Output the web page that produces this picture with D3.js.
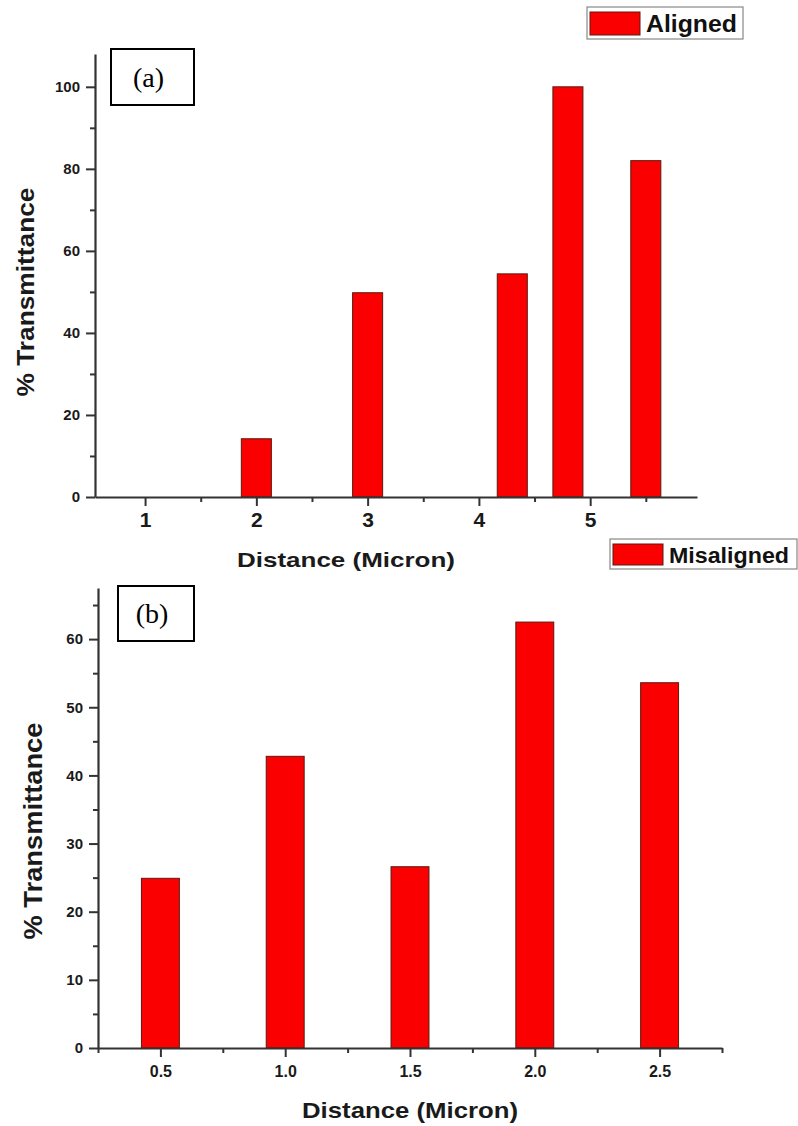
<!DOCTYPE html>
<html>
<head>
<meta charset="utf-8">
<script src="https://cdn.jsdelivr.net/npm/d3@7"></script>
<style>
  html, body { margin: 0; padding: 0; background: #fff; }
  svg { display: block; }
</style>
</head>
<body>
<svg id="chart" width="798" height="1126"></svg>
<script>
// Panel (a): aligned fibres
const alignedDistance = [1, 2, 3, 4.3, 4.8, 5.5];
const alignedTransmittance = [0, 14.2, 49.8, 54.4, 100, 82];
const alignedXTicks = [1, 2, 3, 4, 5];
const alignedXMinor = [1.5, 2.5, 3.5, 4.5, 5.5];
const alignedYTicks = [0, 20, 40, 60, 80, 100];
const alignedYMinor = [10, 30, 50, 70, 90];

// Panel (b): misaligned fibres
const misalignedDistance = [0.5, 1.0, 1.5, 2.0, 2.5];
const misalignedTransmittance = [24.9, 42.8, 26.6, 62.5, 53.6];
const misalignedXTicks = [0.5, 1.0, 1.5, 2.0, 2.5];
const misalignedXMinor = [0.25, 0.75, 1.25, 1.75, 2.25, 2.75];
const misalignedYTicks = [0, 10, 20, 30, 40, 50, 60];
const misalignedYMinor = [5, 15, 25, 35, 45, 55, 65];

const svg = d3.select("#chart");
const FONT = '"Liberation Sans", Arial, sans-serif';
const AXIS = "#333";
const INK = "#1a1a1a";

function styleAxis(a, size) {
  a.attr("font-family", FONT).attr("font-size", size).attr("font-weight", "bold");
  a.select(".domain").attr("stroke", AXIS).attr("stroke-width", 2.2);
  a.selectAll(".tick line").attr("stroke", AXIS).attr("stroke-width", 2);
  a.selectAll(".tick text").attr("fill", INK)
    .style("font-size", size + "px").style("font-weight", "bold").style("font-family", FONT);
}

function drawPanel(o) {
  const x = d3.scaleLinear().domain(o.xDomain).range([o.left, o.right]);
  const y = d3.scaleLinear().domain(o.yDomain).range([o.bottom, o.top]);
  const g = svg.append("g");

  // bars
  const data = o.xs.map((d, i) => ({ x: d, v: o.vs[i] }));
  const bw = x(o.xDomain[0] + o.barWidth) - x(o.xDomain[0]);
  g.selectAll("rect.bar").data(data.filter(d => d.v > 0)).join("rect")
    .attr("class", "bar")
    .attr("x", d => x(d.x) - bw / 2)
    .attr("width", bw)
    .attr("y", d => y(d.v))
    .attr("height", d => y(0) - y(d.v))
    .attr("fill", "#fa0000")
    .attr("stroke", "#5a1a10")
    .attr("stroke-width", 1);

  // minor ticks
  g.append("g").attr("transform", `translate(0,${o.bottom})`)
    .call(d3.axisBottom(x).tickValues(o.xMinor).tickSize(5).tickFormat(""))
    .call(a => a.select(".domain").remove())
    .call(a => a.selectAll("line").attr("stroke", AXIS).attr("stroke-width", 2));
  g.append("g").attr("transform", `translate(${o.left},0)`)
    .call(d3.axisLeft(y).tickValues(o.yMinor).tickSize(5).tickFormat(""))
    .call(a => a.select(".domain").remove())
    .call(a => a.selectAll("line").attr("stroke", AXIS).attr("stroke-width", 2));

  // major axes
  const xa = g.append("g").attr("transform", `translate(0,${o.bottom})`)
    .call(d3.axisBottom(x).tickValues(o.xTicks).tickSize(9).tickSizeOuter(0)
      .tickPadding(o.xPad).tickFormat(o.xFmt));
  styleAxis(xa, o.xFont);

  const ya = g.append("g").attr("transform", `translate(${o.left},0)`)
    .call(d3.axisLeft(y).tickValues(o.yTicks).tickSize(9).tickSizeOuter(0).tickPadding(6));
  styleAxis(ya, o.yFont);

  // axis titles
  g.append("text")
    .attr("x", o.xTitle[0]).attr("y", o.xTitle[1])
    .attr("text-anchor", "middle")
    .attr("font-family", FONT).attr("font-weight", "bold")
    .attr("font-size", o.xTitle[2]).attr("fill", INK)
    .attr("textLength", o.xTitle[3]).attr("lengthAdjust", "spacingAndGlyphs")
    .text("Distance (Micron)");
  g.append("text")
    .attr("transform", `translate(${o.yTitle[0]},${o.yTitle[1]}) rotate(-90)`)
    .attr("text-anchor", "middle")
    .attr("font-family", FONT).attr("font-weight", "bold")
    .attr("font-size", o.yTitle[2]).attr("fill", INK)
    .attr("textLength", o.yTitle[3]).attr("lengthAdjust", "spacingAndGlyphs")
    .text("% Transmittance");

  // panel label
  const lb = o.label;
  g.append("rect").attr("x", lb.x).attr("y", lb.y).attr("width", lb.w).attr("height", lb.h)
    .attr("fill", "#fff").attr("stroke", "#000").attr("stroke-width", 2);
  g.append("text").attr("x", lb.x + lb.w / 2 - 4).attr("y", lb.base)
    .attr("text-anchor", "middle")
    .attr("font-family", '"Liberation Serif", "Times New Roman", serif')
    .attr("font-size", lb.size).attr("fill", "#000")
    .text(lb.text);

  // legend
  const lg = o.legend;
  g.append("rect").attr("x", lg.x).attr("y", lg.y).attr("width", lg.w).attr("height", lg.h)
    .attr("fill", "#fff").attr("stroke", "#888").attr("stroke-width", 1.2);
  g.append("rect").attr("x", lg.x + 3).attr("y", lg.y + 5).attr("width", 50).attr("height", lg.h - 9)
    .attr("fill", "#fa0000").attr("stroke", "#5a1a10").attr("stroke-width", 1);
  g.append("text").attr("x", lg.x + 59).attr("y", lg.base)
    .attr("font-family", FONT).attr("font-weight", "bold")
    .attr("font-size", lg.size).attr("fill", "#111")
    .attr("textLength", lg.tw).attr("lengthAdjust", "spacingAndGlyphs")
    .text(lg.text);
}

drawPanel({
  xs: alignedDistance, vs: alignedTransmittance,
  xDomain: [0.55, 5.96], yDomain: [0, 108],
  left: 95, right: 697, top: 54, bottom: 497,
  barWidth: 0.27,
  xTicks: alignedXTicks, xMinor: alignedXMinor, yTicks: alignedYTicks, yMinor: alignedYMinor,
  xFmt: d3.format("d"), xFont: 21, yFont: 15, xPad: 6,
  xTitle: [346, 567, 21, 218], yTitle: [34, 292, 24, 209],
  label: { x: 111, y: 49, w: 83, h: 56, base: 87, size: 28, text: "(a)" },
  legend: { x: 587, y: 7, w: 156, h: 32, base: 32, size: 24, tw: 91, text: "Aligned" }
});

drawPanel({
  xs: misalignedDistance, vs: misalignedTransmittance,
  xDomain: [0.25, 2.75], yDomain: [0, 67.5],
  left: 98, right: 722, top: 588, bottom: 1048,
  barWidth: 0.152,
  xTicks: misalignedXTicks, xMinor: misalignedXMinor, yTicks: misalignedYTicks, yMinor: misalignedYMinor,
  xFmt: d3.format(".1f"), xFont: 16, yFont: 15, xPad: 9,
  xTitle: [410, 1118, 22, 216], yTitle: [42, 831, 25, 217],
  label: { x: 118, y: 586, w: 76, h: 55, base: 623, size: 28, text: "(b)" },
  legend: { x: 610, y: 539, w: 187, h: 30, base: 563, size: 22, tw: 120, text: "Misaligned" }
});
</script>
</body>
</html>
